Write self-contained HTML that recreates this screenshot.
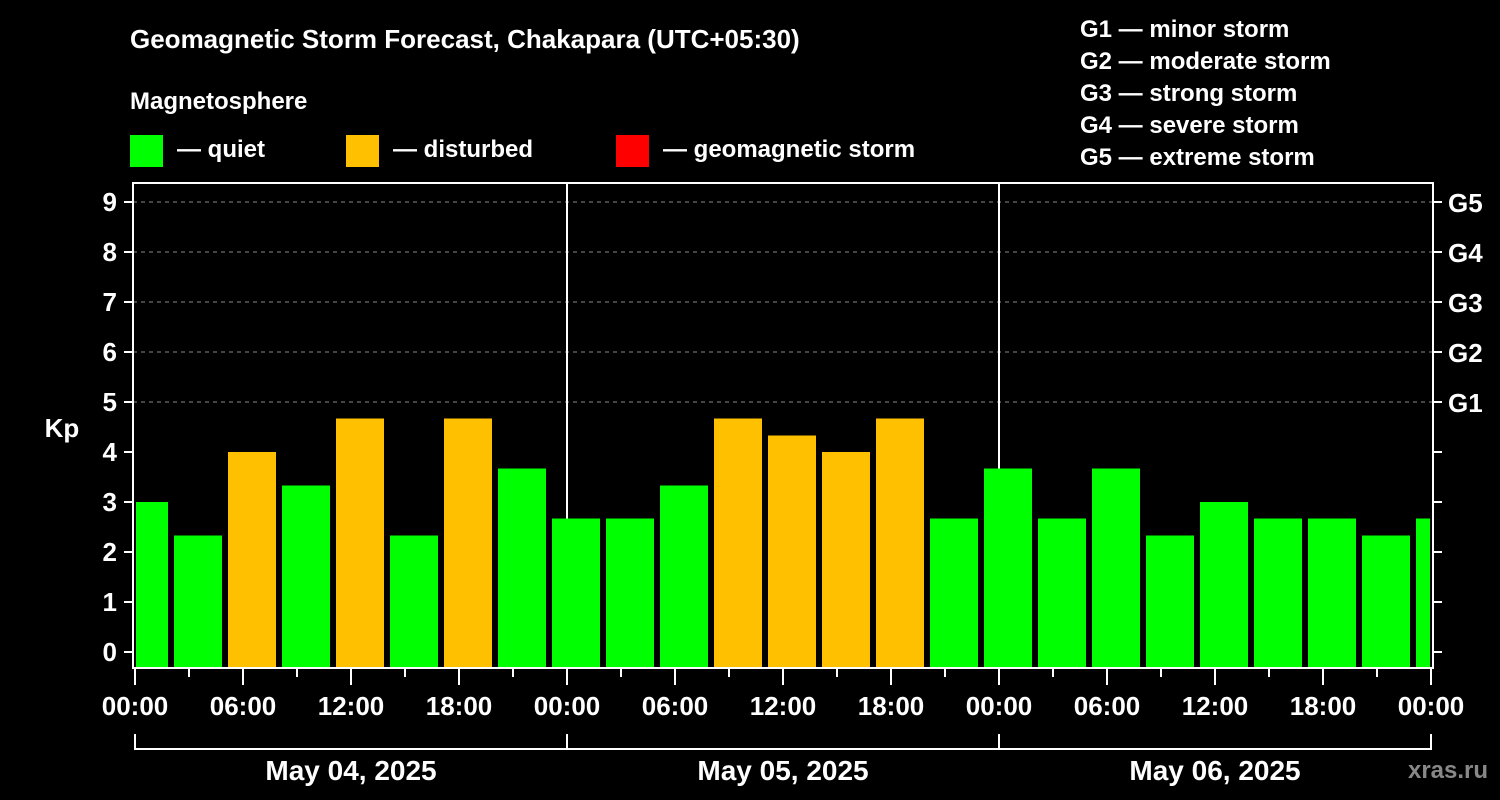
<!DOCTYPE html>
<html><head><meta charset="utf-8"><style>
html,body{margin:0;padding:0;background:#000;}
svg{display:block;font-family:"Liberation Sans",sans-serif;font-weight:bold;}
</style></head><body>
<svg id="chart" width="1500" height="800" viewBox="0 0 1500 800">
<rect x="0" y="0" width="1500" height="800" fill="#000"/>
<text x="130" y="48" fill="#fff" font-size="26">Geomagnetic Storm Forecast, Chakapara (UTC+05:30)</text>
<text x="130" y="109" fill="#fff" font-size="24">Magnetosphere</text>
<g><rect x="130" y="135" width="33" height="32" fill="#00ff00"/><text x="177" y="157" fill="#fff" font-size="24">— quiet</text></g>
<g><rect x="346" y="135" width="33" height="32" fill="#ffc000"/><text x="393" y="157" fill="#fff" font-size="24">— disturbed</text></g>
<g><rect x="616" y="135" width="33" height="32" fill="#ff0000"/><text x="663" y="157" fill="#fff" font-size="24">— geomagnetic storm</text></g>
<g fill="#fff" font-size="24">
<text x="1080" y="37">G1 — minor storm</text>
<text x="1080" y="69">G2 — moderate storm</text>
<text x="1080" y="101">G3 — strong storm</text>
<text x="1080" y="133">G4 — severe storm</text>
<text x="1080" y="165">G5 — extreme storm</text>
</g>
<g id="grid"></g><g id="bars"></g><g id="axes"></g>
<text x="62" y="437" fill="#fff" font-size="26" text-anchor="middle">Kp</text>
<text x="1448" y="778" fill="#888" font-size="24" text-anchor="middle">xras.ru</text>
</svg>
<script>
const kpValues=[3,2.33,4,3.33,4.67,2.33,4.67,3.67,2.67,2.67,3.33,4.67,4.33,4,4.67,2.67,3.67,2.67,3.67,2.33,3,2.67,2.67,2.33,2.67];
const yTicks=[0,1,2,3,4,5,6,7,8,9];
const gLabels=["G1","G2","G3","G4","G5"];
const xLabels=["00:00","06:00","12:00","18:00","00:00","06:00","12:00","18:00","00:00","06:00","12:00","18:00","00:00"];
const dayLabels=["May 04, 2025","May 05, 2025","May 06, 2025"];
const NS="http://www.w3.org/2000/svg";
const X0=135,HPX=18,PL=133,PR=1433,PT=183,PB=668;
const yS=v=>652-50*v;
const xS=h=>X0+h*HPX;
function mk(t,a,p){const e=document.createElementNS(NS,t);for(const k in a)e.setAttribute(k,a[k]);p.appendChild(e);return e;}
const grid=document.getElementById('grid'),bars=document.getElementById('bars'),axes=document.getElementById('axes');
for(let v=5;v<=9;v++){const l=mk('line',{x1:PL,x2:PR,y1:yS(v),y2:yS(v),stroke:'#888','stroke-dasharray':'4,4','stroke-width':1},grid);

}
kpValues.forEach((v,i)=>{
 let x1=xS(-1+3*i+3/18*0)-15+3; // slot start offset -18px
 x1=X0-18+54*i+3; let x2=x1+48;
 x1=Math.max(x1,136); x2=Math.min(x2,1430);
 const r=mk('rect',{x:x1,y:yS(v),width:x2-x1,height:PB-yS(v),fill:v>=5?'#ff0000':(v>=4?'#ffc000':'#00ff00')},bars);
 
 
});
for(const d of [1,2]){const l=mk('line',{x1:xS(24*d),x2:xS(24*d),y1:PT,y2:PB,stroke:'#fff','stroke-width':2},grid);

}
const frame=mk('rect',{x:PL,y:PT,width:PR-PL,height:PB-PT,fill:'none',stroke:'#fff','stroke-width':2},axes);


yTicks.forEach(v=>{
 mk('line',{x1:PL-9,x2:PL,y1:yS(v),y2:yS(v),stroke:'#fff','stroke-width':2},axes);
 mk('line',{x1:PR,x2:PR+9,y1:yS(v),y2:yS(v),stroke:'#fff','stroke-width':2},axes);
 const t=mk('text',{x:PL-16,y:yS(v)+9,fill:'#fff','font-size':26,'text-anchor':'end'},axes);t.textContent=v;
 
 
});
gLabels.forEach((g,i)=>{const t=mk('text',{x:1448,y:yS(5+i)+10,fill:'#fff','font-size':26},axes);t.textContent=g;
 
 });
for(let h=0;h<=72;h+=3){const long=h%6===0;mk('line',{x1:xS(h),x2:xS(h),y1:PB,y2:PB+(long?17:9),stroke:'#fff','stroke-width':2},axes);}
xLabels.forEach((s,i)=>{const t=mk('text',{x:xS(6*i),y:715,fill:'#fff','font-size':26,'text-anchor':'middle'},axes);t.textContent=s;
 
 });
mk('line',{x1:xS(0),x2:xS(72),y1:749,y2:749,stroke:'#fff','stroke-width':2},axes);
for(let d=0;d<=3;d++)mk('line',{x1:xS(24*d),x2:xS(24*d),y1:734,y2:750,stroke:'#fff','stroke-width':2},axes);
dayLabels.forEach((s,i)=>{const t=mk('text',{x:xS(24*i+12),y:780,fill:'#fff','font-size':28,'text-anchor':'middle'},axes);t.textContent=s;
 
 });
</script>
</body></html>
